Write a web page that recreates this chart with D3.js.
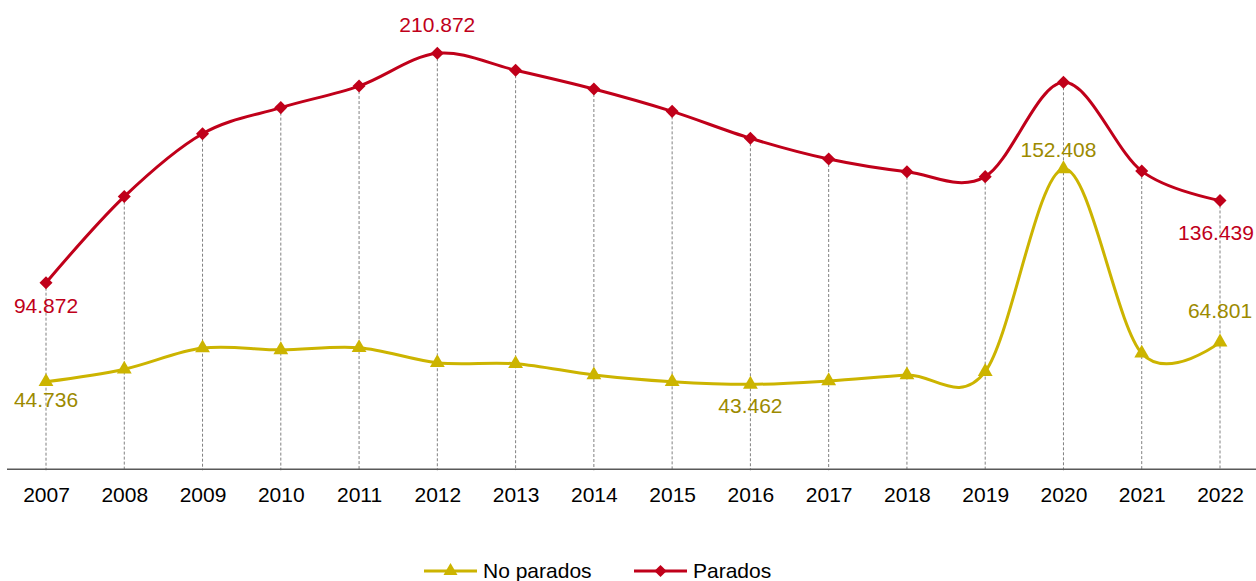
<!DOCTYPE html>
<html>
<head>
<meta charset="utf-8">
<script src="https://cdn.jsdelivr.net/npm/d3@7"></script>
<style>
  html, body { margin: 0; padding: 0; background: #fff; }
  svg { display: block; font-family: "Liberation Sans", Arial, sans-serif; }
</style>
</head>
<body>
<svg id="chart" width="1256" height="581"></svg>
<script>
const years = [2007, 2008, 2009, 2010, 2011, 2012, 2013, 2014, 2015, 2016, 2017, 2018, 2019, 2020, 2021, 2022];
const noParados = [44.736, 51.1, 61.8, 60.9, 62.0, 54.4, 53.9, 48.2, 44.8, 43.462, 45.2, 48.2, 49.9, 152.408, 59.2, 64.801];
const parados = [94.872, 138.4, 170.2, 183.4, 194.3, 210.872, 202.3, 192.8, 181.5, 167.9, 157.4, 151.0, 148.5, 196.2, 151.3, 136.439];
const seriesNames = ["No parados", "Parados"];
const labelledNoParados = [2007, 2016, 2020, 2022];
const labelledParados = [2007, 2012, 2022];

const fmt = v => d3.format(".3f")(v);

const svg = d3.select("#chart");
const x = d3.scaleLinear().domain([2007, 2022]).range([46, 1220]);
const y = d3.scaleLinear().domain([0, 220]).range([470.3, 470.3 - 220 * 1.9776]);

const RED = "#C0001A", YEL = "#CCB400", YEL_TXT = "#9C8A00";

// dashed drop lines
svg.append("g").selectAll("line").data(years).join("line")
  .attr("x1", d => x(d)).attr("x2", d => x(d))
  .attr("y1", (d, i) => y(parados[i])).attr("y2", y(0))
  .attr("stroke", "#808080").attr("stroke-width", 1).attr("stroke-dasharray", "3,2");

// axis
const axis = d3.axisBottom(x).tickValues(years).tickFormat(d3.format("d")).tickSize(0).tickPadding(18);
const ax = svg.append("g").attr("transform", `translate(0,${y(0) - 1})`).call(axis);
ax.select(".domain").remove();
ax.append("line").attr("x1", 7).attr("x2", 1256).attr("stroke", "#595959").attr("stroke-width", 1.5);
ax.selectAll("text").attr("font-size", 21).attr("fill", "#000").attr("font-family", "Liberation Sans, Arial, sans-serif");

const line = d3.line().x((d, i) => x(years[i])).y(d => y(d)).curve(d3.curveCardinal.tension(0));

svg.append("path").datum(noParados).attr("d", line).attr("fill", "none").attr("stroke", YEL).attr("stroke-width", 3);
svg.append("path").datum(parados).attr("d", line).attr("fill", "none").attr("stroke", RED).attr("stroke-width", 3);

svg.append("g").selectAll("path").data(noParados).join("path")
  .attr("d", d3.symbol().type(d3.symbolTriangle).size(95))
  .attr("transform", (d, i) => `translate(${x(years[i])},${y(d)})`)
  .attr("fill", YEL);
svg.append("g").selectAll("path").data(parados).join("path")
  .attr("d", d3.symbol().type(d3.symbolSquare).size(85))
  .attr("transform", (d, i) => `translate(${x(years[i])},${y(d)}) rotate(45)`)
  .attr("fill", RED);

// data labels
const labelOffset = {
  "0-2007": 25, "0-2016": 29, "0-2020": -12, "0-2022": -24,
  "1-2007": 30, "1-2012": -21, "1-2022": 40
};
const labelDx = { "0-2020": -5, "1-2022": -4 };
function addLabels(si, vals, yrs, color) {
  svg.append("g").selectAll("text").data(yrs).join("text")
    .attr("x", d => x(d) + (labelDx[si + "-" + d] || 0))
    .attr("y", d => y(vals[years.indexOf(d)]) + labelOffset[si + "-" + d])
    .attr("text-anchor", "middle")
    .attr("font-size", 21).attr("fill", color)
    .text(d => fmt(vals[years.indexOf(d)]));
}
addLabels(0, noParados, labelledNoParados, YEL_TXT);
addLabels(1, parados, labelledParados, RED);

// legend
const lg = svg.append("g");
const legendItems = [
  { name: seriesNames[0], color: YEL, x0: 424, shape: "tri" },
  { name: seriesNames[1], color: RED, x0: 634, shape: "dia" }
];
legendItems.forEach(it => {
  const ly = 571;
  lg.append("line").attr("x1", it.x0).attr("x2", it.x0 + 53).attr("y1", ly).attr("y2", ly)
    .attr("stroke", it.color).attr("stroke-width", 3);
  const sym = lg.append("path").attr("fill", it.color);
  if (it.shape === "tri") {
    sym.attr("d", d3.symbol().type(d3.symbolTriangle).size(85)).attr("transform", `translate(${it.x0 + 26.5},${ly})`);
  } else {
    sym.attr("d", d3.symbol().type(d3.symbolSquare).size(75)).attr("transform", `translate(${it.x0 + 26.5},${ly}) rotate(45)`);
  }
  lg.append("text").attr("x", it.x0 + 59).attr("y", 578).attr("font-size", 21).attr("fill", "#000").text(it.name);
});
</script>
</body>
</html>
